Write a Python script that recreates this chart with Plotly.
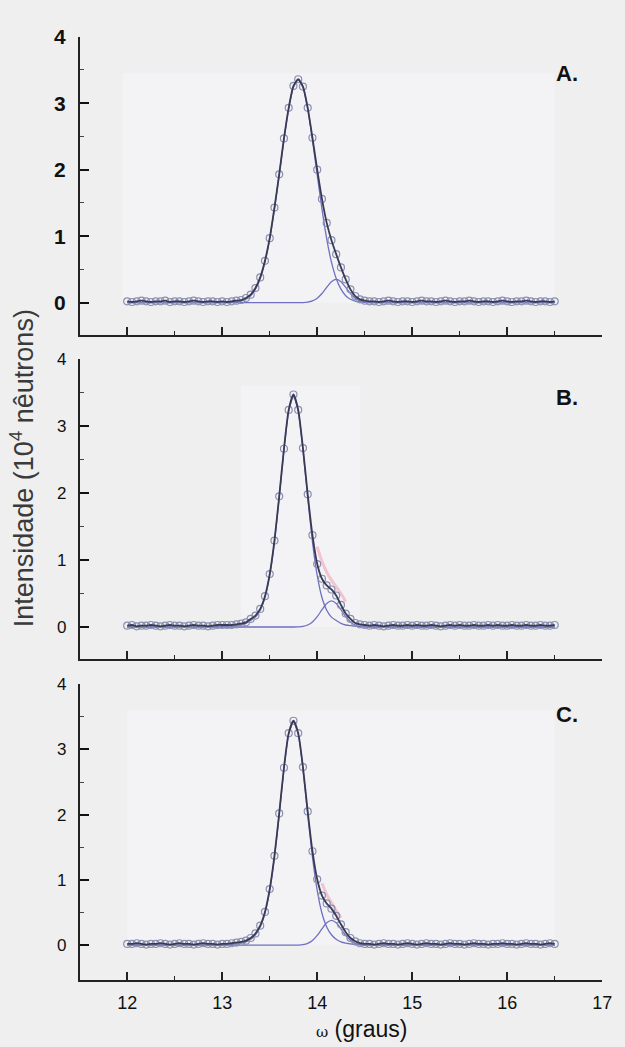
import plotly.graph_objects as go

# ---------------- data ----------------
OMEGA = [
    12.00, 12.05, 12.10, 12.15, 12.20, 12.25, 12.30, 12.35, 12.40, 12.45,
    12.50, 12.55, 12.60, 12.65, 12.70, 12.75, 12.80, 12.85, 12.90, 12.95,
    13.00, 13.05, 13.10, 13.15, 13.20, 13.25, 13.30, 13.35, 13.40, 13.45,
    13.50, 13.55, 13.60, 13.65, 13.70, 13.75, 13.80, 13.85, 13.90, 13.95,
    14.00, 14.05, 14.10, 14.15, 14.20, 14.25, 14.30, 14.35, 14.40, 14.45,
    14.50, 14.55, 14.60, 14.65, 14.70, 14.75, 14.80, 14.85, 14.90, 14.95,
    15.00, 15.05, 15.10, 15.15, 15.20, 15.25, 15.30, 15.35, 15.40, 15.45,
    15.50, 15.55, 15.60, 15.65, 15.70, 15.75, 15.80, 15.85, 15.90, 15.95,
    16.00, 16.05, 16.10, 16.15, 16.20, 16.25, 16.30, 16.35, 16.40, 16.45,
    16.50,
]

DATA_A = [
    0.02, 0.01, 0.02, 0.03, 0.02, 0.01, 0.02, 0.02, 0.03, 0.01,
    0.02, 0.02, 0.01, 0.02, 0.03, 0.02, 0.01, 0.02, 0.02, 0.01,
    0.02, 0.01, 0.02, 0.03, 0.04, 0.07, 0.12, 0.22, 0.38, 0.63,
    0.97, 1.43, 1.93, 2.47, 2.93, 3.26, 3.36, 3.25, 2.93, 2.48,
    2.00, 1.56, 1.20, 0.94, 0.73, 0.53, 0.35, 0.20, 0.10, 0.05,
    0.03, 0.02, 0.02, 0.01, 0.02, 0.03, 0.02, 0.01, 0.02, 0.02,
    0.01, 0.02, 0.03, 0.02, 0.02, 0.01, 0.02, 0.03, 0.02, 0.01,
    0.02, 0.02, 0.03, 0.02, 0.01, 0.02, 0.02, 0.01, 0.02, 0.03,
    0.02, 0.01, 0.02, 0.02, 0.03, 0.02, 0.01, 0.02, 0.02, 0.01,
    0.02,
]
DATA_B = [
    0.02, 0.03, 0.01, 0.02, 0.02, 0.03, 0.02, 0.01, 0.02, 0.03,
    0.02, 0.02, 0.01, 0.02, 0.03, 0.02, 0.02, 0.01, 0.02, 0.03,
    0.03, 0.03, 0.03, 0.04, 0.05, 0.07, 0.12, 0.17, 0.27, 0.46,
    0.79, 1.29, 1.95, 2.66, 3.24, 3.47, 3.24, 2.67, 1.98, 1.37,
    0.94, 0.72, 0.62, 0.56, 0.47, 0.33, 0.20, 0.12, 0.06, 0.04,
    0.03, 0.02, 0.03, 0.02, 0.01, 0.02, 0.03, 0.02, 0.02, 0.03,
    0.02, 0.03, 0.02, 0.02, 0.03, 0.02, 0.01, 0.02, 0.03, 0.02,
    0.03, 0.02, 0.02, 0.03, 0.02, 0.02, 0.03, 0.02, 0.03, 0.02,
    0.02, 0.03, 0.02, 0.02, 0.03, 0.02, 0.02, 0.03, 0.02, 0.02,
    0.03,
]
DATA_C = [
    0.02, 0.02, 0.03, 0.02, 0.01, 0.02, 0.02, 0.03, 0.02, 0.01,
    0.02, 0.03, 0.02, 0.02, 0.01, 0.02, 0.03, 0.02, 0.02, 0.01,
    0.02, 0.02, 0.03, 0.04, 0.05, 0.07, 0.11, 0.18, 0.30, 0.51,
    0.86, 1.37, 2.02, 2.72, 3.25, 3.44, 3.25, 2.73, 2.05, 1.44,
    1.01, 0.76, 0.64, 0.56, 0.45, 0.32, 0.20, 0.11, 0.06, 0.03,
    0.02, 0.02, 0.01, 0.02, 0.03, 0.02, 0.02, 0.01, 0.02, 0.03,
    0.02, 0.01, 0.02, 0.03, 0.02, 0.02, 0.01, 0.02, 0.03, 0.02,
    0.02, 0.01, 0.02, 0.03, 0.02, 0.02, 0.01, 0.02, 0.02, 0.03,
    0.02, 0.02, 0.01, 0.02, 0.03, 0.02, 0.02, 0.01, 0.02, 0.03,
    0.02,
]

COMP_X = [
    12.00,
    13.00, 13.05, 13.10, 13.15, 13.20, 13.25, 13.30, 13.35, 13.40, 13.45,
    13.50, 13.55, 13.60, 13.65, 13.70, 13.75, 13.80, 13.85, 13.90, 13.95,
    14.00, 14.05, 14.10, 14.15, 14.20, 14.25, 14.30, 14.35, 14.40, 14.45,
    14.50, 14.55, 14.60, 14.65, 14.70,
    16.50,
]
MAIN_A = [
    0,
    0, 0, 0.004, 0.010, 0.023, 0.051, 0.105, 0.203, 0.365, 0.61,
    0.96, 1.41, 1.92, 2.45, 2.92, 3.24, 3.35, 3.24, 2.92, 2.45,
    1.92, 1.41, 0.96, 0.61, 0.365, 0.203, 0.105, 0.051, 0.023, 0.010,
    0.004, 0, 0, 0, 0,
    0,
]
SIDE_A = [
    0,
    0, 0, 0, 0, 0, 0, 0, 0, 0, 0,
    0, 0, 0, 0, 0, 0, 0, 0.002, 0.0085, 0.026,
    0.067, 0.138, 0.231, 0.316, 0.35, 0.316, 0.231, 0.138, 0.067, 0.026,
    0.0085, 0.002, 0, 0, 0,
    0,
]
MAIN_B = [
    0,
    0.006, 0.009, 0.014, 0.02, 0.03, 0.055, 0.097, 0.147, 0.25, 0.44,
    0.77, 1.27, 1.93, 2.64, 3.22, 3.45, 3.22, 2.64, 1.93, 1.27,
    0.77, 0.44, 0.25, 0.147, 0.097, 0.055, 0.03, 0.02, 0.014, 0.009,
    0.006, 0.003, 0, 0, 0,
    0,
]
SIDE_B = [
    0,
    0, 0, 0, 0, 0, 0, 0, 0, 0, 0,
    0, 0, 0, 0, 0, 0, 0.0025, 0.0095, 0.030, 0.075,
    0.154, 0.258, 0.352, 0.39, 0.352, 0.258, 0.154, 0.075, 0.030, 0.0095,
    0.0025, 0, 0, 0, 0,
    0,
]
MAIN_C = [
    0,
    0, 0.005, 0.01, 0.02, 0.03, 0.05, 0.09, 0.16, 0.28, 0.49,
    0.84, 1.35, 2.00, 2.70, 3.23, 3.42, 3.23, 2.70, 2.00, 1.35,
    0.84, 0.49, 0.28, 0.16, 0.09, 0.05, 0.03, 0.02, 0.01, 0.005,
    0, 0, 0, 0, 0,
    0,
]
SIDE_C = [
    0,
    0, 0, 0, 0, 0, 0, 0, 0, 0, 0,
    0, 0, 0, 0, 0, 0, 0.002, 0.009, 0.029, 0.073,
    0.150, 0.251, 0.343, 0.38, 0.343, 0.251, 0.150, 0.073, 0.029, 0.009,
    0.002, 0, 0, 0, 0,
    0,
]

RED_X_B = [14.00, 14.05, 14.10, 14.15, 14.20, 14.25, 14.30]
RED_Y_B = [1.20, 0.98, 0.82, 0.70, 0.60, 0.50, 0.38]
RED_X_C = [14.05, 14.10, 14.15, 14.20, 14.25]
RED_Y_C = [0.95, 0.78, 0.65, 0.53, 0.42]

PANEL_LABELS = ["A.", "B.", "C."]
Y_TICKS = [0, 1, 2, 3, 4]
X_TICKS = [12, 13, 14, 15, 16, 17]

for arr in (DATA_A, DATA_B, DATA_C):
    assert len(arr) == len(OMEGA), len(arr)
for arr in (MAIN_A, SIDE_A, MAIN_B, SIDE_B, MAIN_C, SIDE_C):
    assert len(arr) == len(COMP_X), len(arr)

# ---------------- styling ----------------
W, H = 625, 1047
BG = "#efefef"
FONT = "Arial, 'Liberation Sans', sans-serif"
DARK = "#3a3a55"
COMP = "#6f70c2"
CIRC = "#8a90b0"
RED = "rgba(240,165,182,0.6)"

X_DOM = [81 / W, 612 / W]
panels = [
    # (data, main, side, red_x, red_y, y-range, pixel top, pixel bottom)
    (DATA_A, MAIN_A, SIDE_A, None, None, [-0.49, 4], 25, 327),
    (DATA_B, MAIN_B, SIDE_B, RED_X_B, RED_Y_B, [-0.47, 4], 351, 654),
    (DATA_C, MAIN_C, SIDE_C, RED_X_C, RED_Y_C, [-0.53, 4], 680, 979),
]
label_y_px = [62, 390, 711]
light_rects = [(11.95, 16.5, 0, 3.45), (13.2, 14.45, 0, 3.6), (12.0, 16.5, 0, 3.6)]

fig = go.Figure()
layout = dict(
    width=W, height=H,
    margin=dict(l=0, r=0, t=0, b=0),
    paper_bgcolor=BG, plot_bgcolor=BG,
    showlegend=False,
    font=dict(family=FONT, color="#111"),
    annotations=[], shapes=[],
)

for i, (data, main, side, rx, ry, yr, ptop, pbot) in enumerate(panels):
    sfx = "" if i == 0 else str(i + 1)
    xa, ya = "x" + sfx, "y" + sfx

    layout["shapes"].append(dict(
        type="rect", xref=xa, yref=ya,
        x0=light_rects[i][0], x1=light_rects[i][1],
        y0=light_rects[i][2], y1=light_rects[i][3],
        fillcolor="#f3f3f5", line=dict(width=0), layer="below"))

    fig.add_trace(go.Scatter(x=COMP_X, y=main, mode="lines", xaxis=xa, yaxis=ya,
                             line=dict(color=COMP, width=1.3, shape="spline", smoothing=0.6)))
    fig.add_trace(go.Scatter(x=COMP_X, y=side, mode="lines", xaxis=xa, yaxis=ya,
                             line=dict(color=COMP, width=1.3, shape="spline", smoothing=0.6)))
    if rx is not None:
        fig.add_trace(go.Scatter(x=rx, y=ry, mode="lines", xaxis=xa, yaxis=ya,
                                 line=dict(color=RED, width=3, shape="spline")))
    fig.add_trace(go.Scatter(x=OMEGA, y=data, mode="markers", xaxis=xa, yaxis=ya,
                             marker=dict(symbol="circle-open", size=7, color=CIRC,
                                         line=dict(width=1.2, color=CIRC))))
    fig.add_trace(go.Scatter(x=OMEGA, y=data, mode="lines", xaxis=xa, yaxis=ya,
                             line=dict(color=DARK, width=1.8, shape="spline", smoothing=0.6)))

    y0p = 1 - pbot / H
    y1p = 1 - ptop / H
    bottom = (i == 2)
    layout["xaxis" + sfx] = dict(
        domain=X_DOM, range=[11.5, 17], anchor=ya,
        showline=True, linecolor="#222", linewidth=1.6,
        ticks="inside", ticklen=8, tickwidth=1.5, tickcolor="#222",
        tickvals=X_TICKS,
        minor=dict(tickvals=[12.5, 13.5, 14.5, 15.5, 16.5], ticks="inside",
                   ticklen=4, tickwidth=1.3, tickcolor="#222"),
        showgrid=False, zeroline=False,
        showticklabels=bottom,
        tickfont=dict(size=18, family=FONT, color="#111"),
        ticklabelstandoff=6,
    )
    layout["yaxis" + sfx] = dict(
        domain=[y0p, y1p], range=yr, anchor=xa,
        showline=True, linecolor="#222", linewidth=1.8,
        ticks="inside", ticklen=9, tickwidth=1.6, tickcolor="#111",
        tickvals=Y_TICKS,
        minor=dict(tickvals=[0.5, 1.5, 2.5, 3.5], ticks="inside",
                   ticklen=4, tickwidth=1.3, tickcolor="#444"),
        showgrid=False, zeroline=False,
        tickfont=dict(size=21 if i == 0 else 17, family=FONT, color="#111",
                      weight="bold" if i == 0 else "normal"),
        ticklabelstandoff=8,
    )
    layout["annotations"].append(dict(
        text=PANEL_LABELS[i], xref="paper", yref="paper",
        x=576 / W, y=1 - label_y_px[i] / H, xanchor="center", yanchor="middle",
        showarrow=False, font=dict(size=22, family=FONT, color="#111", weight="bold")))

layout["annotations"].append(dict(
    text="Intensidade (10<sup>4</sup> nêutrons)", xref="paper", yref="paper",
    x=22 / W, y=1 - 462 / H, textangle=-90, xanchor="center", yanchor="middle",
    showarrow=False, font=dict(size=27, family=FONT, color="#3a3a3a")))
layout["annotations"].append(dict(
    text="<span style='font-family:DejaVu Serif;font-size:15px'>ω</span> (graus)",
    xref="paper", yref="paper",
    x=367 / W, y=1 - 1029 / H, xanchor="center", yanchor="middle",
    showarrow=False, font=dict(size=23, family=FONT, color="#111")))

fig.update_layout(**layout)
fig.write_html(
    "out.html",
    config={"displayModeBar": False},
    post_script="document.body.style.margin='0';document.body.style.padding='0';"
                "document.documentElement.style.margin='0';document.body.style.overflow='hidden';",
)
